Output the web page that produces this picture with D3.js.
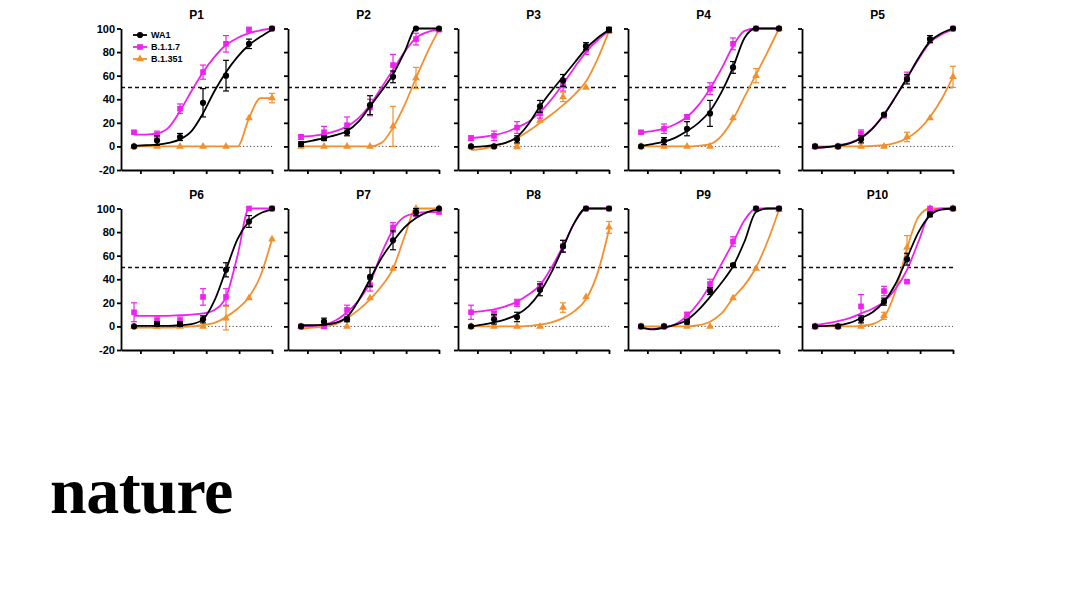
<!DOCTYPE html>
<html>
<head>
<meta charset="utf-8">
<script src="https://cdn.jsdelivr.net/npm/d3@7"></script>
<style>
  body { margin: 0; background: #fff; }
  svg { display: block; font-family: "Liberation Sans", Arial, sans-serif; }
</style>
</head>
<body>
<svg id="chart" width="1066" height="600"></svg>
<script>
// Panels and series
const panelNames = ['P1', 'P2', 'P3', 'P4', 'P5', 'P6', 'P7', 'P8', 'P9', 'P10'];
const seriesNames = ['WA1', 'B.1.1.7', 'B.1.351'];

// 5-fold dilution steps (x), and the finer grid used for the fitted curves
const dilution = [6.4, 32, 160, 800, 4000, 20000, 100000];
const fitDilution = [6.4, 14.3, 32, 71.6, 160, 358, 800, 1789, 4000, 8944, 20000, 44721, 100000];
const xTicks = [10, 100, 1000, 10000, 100000];
const yTicks = [-20, 0, 20, 40, 60, 80, 100];

// WA1 mean values and error (one row per panel)
const wa1 = [
  [0, 5, 8, 37, 60, 87, 100],
  [2, 7, 12, 35, 59, 100, 100],
  [0, 0, 6, 34, 56, 85, 99],
  [0, 4.5, 15, 28, 67, 100, 100],
  [0, 0, 6, 27, 57, 91, 100],
  [0, 2, 2, 6, 48, 89, 100],
  [0, 4, 6, 42, 73, 97, 100],
  [0, 6, 8, 31, 68, 100, 100],
  [0, 0, 4, 30, 52, 100, 100],
  [0, 0, 6, 21, 57, 95, 100]
];
const wa1Err = [
  [0, 4, 3, 12, 13, 4, 0],
  [2, 2, 3, 8, 5, 0, 0],
  [0, 0, 3, 5, 5, 3, 2],
  [0, 3, 6, 11, 5, 0, 0],
  [0, 0, 3, 1, 4, 3, 0],
  [0, 2, 2, 3, 6, 5, 0],
  [0, 3, 2, 8, 8, 3, 0],
  [0, 4, 4, 5, 5, 0, 0],
  [0, 0, 2, 3, 1, 0, 0],
  [0, 0, 3, 3, 5, 2, 0]
];

// B.1.1.7
const b117 = [
  [12, 10, 32, 63, 87, 99, 100],
  [8, 12, 18, 33, 69, 91, 99],
  [7, 9, 16, 28, 52, 82, 98],
  [12, 15, 25, 49, 87, 100, 100],
  [0, 0, 11, 26, 59, 90, 100],
  [12, 5, 5, 25, 25, 100, 100],
  [0, 0, 14, 35, 84, 95, 97],
  [12, 11, 20, 34, 68, 100, 100],
  [0, 0, 10, 36, 72, 100, 100],
  [0, 0, 17, 30, 38, 100, 100]
];
const b117Err = [
  [1, 3, 4, 6, 7, 2, 0],
  [2, 5, 7, 7, 9, 5, 0],
  [2, 4, 5, 4, 5, 4, 0],
  [1, 4, 2, 5, 5, 0, 0],
  [0, 0, 3, 1, 4, 2, 0],
  [8, 3, 3, 7, 7, 0, 0],
  [0, 1, 4, 5, 4, 1, 0],
  [6, 2, 3, 4, 5, 0, 0],
  [0, 0, 2, 4, 4, 0, 0],
  [0, 0, 10, 4, 1, 0, 0]
];

// B.1.351
const b1351 = [
  [0, 0, 0, 0, 0, 24, 41],
  [0, 0, 0, 0, 17, 58, 99],
  [0, 0, 0, 22, 42, 50, 98],
  [0, 0, 0, 0, 24, 60, 100],
  [0, 0, 0, 0, 8, 24, 59],
  [0, 0, 0, 0, 7, 24, 74],
  [0, 0, 0, 24, 49, 100, 100],
  [0, 0, 0, 0, 16, 25, 84],
  [0, 0, 0, 0, 24, 49, 99],
  [0, 0, 0, 9, 67, 100, 100]
];
const b1351Err = [
  [0, 0, 0, 0, 0, 0, 4],
  [0, 0, 0, 0, 17, 9, 0],
  [0, 0, 2, 0, 4, 0, 0],
  [0, 0, 0, 0, 0, 6, 0],
  [0, 0, 0, 0, 4, 0, 9],
  [0, 0, 0, 0, 10, 0, 0],
  [0, 0, 0, 0, 0, 0, 0],
  [0, 0, 0, 0, 4, 0, 5],
  [0, 0, 0, 0, 0, 0, 0],
  [0, 0, 0, 3, 10, 0, 0]
];

const wa1Fit = [
  [0.5, 1, 1.5, 3, 6, 13, 28, 47, 63, 76, 86, 93, 99],
  [3, 5, 7, 9.5, 13, 21, 34, 47, 61, 80, 100, 100, 100],
  [-0.5, 0, 1, 3, 8, 19, 34, 47, 59, 71, 83, 92, 99],
  [0.5, 2, 4, 7.5, 13, 20, 30, 46, 67, 92, 100, 100, 100],
  [-1, -0.5, 0.5, 2.5, 7, 15, 27, 42, 58, 75, 89, 96, 100],
  [0.5, 0.5, 0.5, 0.5, 1, 2, 6, 22, 48, 74, 89, 96, 99],
  [1, 1, 1.5, 3, 8, 22, 40, 58, 72, 84, 92, 97, 99],
  [0, 1.5, 3.5, 6, 10, 17, 29, 46, 67, 88, 100, 100, 100],
  [-1, -2.5, -1, 1.5, 5.5, 14, 25, 37, 51, 72, 97, 100, 100],
  [0, 0.5, 1, 3, 7, 12, 21, 36, 58, 80, 94, 99, 100]
];
const b117Fit = [
  [10, 10, 11, 16, 30, 47, 63, 76, 86, 92, 96, 98.5, 100],
  [8.5, 9, 10.5, 13, 17, 24, 35, 50, 65, 80, 92, 97, 99],
  [7, 8, 9.5, 12, 16, 21, 29, 40, 53, 67, 80, 90, 98],
  [12, 13, 15, 19, 25, 35, 49, 66, 85, 98, 100, 100, 100],
  [-1.5, -0.5, 1, 3, 7.5, 15.5, 27, 42, 58, 74, 88, 95, 99],
  [9, 9, 9, 9, 9.5, 10, 11, 14, 25, 60, 100, 100, 100],
  [0, 0.5, 1.5, 5, 12, 22, 37, 62, 82, 93, 96, 97, 97],
  [12, 13, 14.5, 17, 21, 27, 35, 50, 68, 88, 100, 100, 100],
  [-1, -2, -1, 2, 9, 20, 35, 53, 71, 90, 100, 100, 100],
  [1, 2.5, 4.5, 7, 11, 15, 21, 32, 48, 72, 96, 100, 100]
];
const b1351Fit = [
  [0, 0, 0, 0, 0, 0, 0, 0, 0, 0, 24, 41, 41],
  [0, 0, 0, 0, 0, 0, 0, 3, 16, 35, 58, 80, 99],
  [-3, -2, 0, 3, 7, 13, 20, 27, 35, 44, 55, 74, 98],
  [0, 0, 0, 0, 0, 0.5, 2, 9, 23, 42, 61, 80, 100],
  [0, 0, 0, 0, 0, 0.5, 1, 3, 7, 14, 25, 40, 59],
  [-1, -1, -1, -1, -0.5, 0, 1, 3, 8, 15, 25, 43, 74],
  [-2, -1, 0, 2, 7, 14, 23, 34, 49, 76, 100, 100, 100],
  [0, 0, 0, 0, 0, 0.5, 1.5, 3.5, 7, 13, 23, 45, 82],
  [0, 0, 0, 0, 0, 1, 4, 11, 24, 35, 50, 72, 99],
  [0, 0, 0, 0, 0.5, 2, 8, 30, 66, 93, 100, 100, 100]
];

const seriesColors = ['#000000', '#ee22ee', '#f3902c'];
const seriesSymbols = [d3.symbolCircle, d3.symbolSquare, d3.symbolTriangle];
const seriesSizes = [30, 32, 26];

const means = [wa1, b117, b1351];
const errs = [wa1Err, b117Err, b1351Err];
const fits = [wa1Fit, b117Fit, b1351Fit];

// layout
const colX = [121, 288, 458, 628, 802];
const rowY = [28.5, 208.5];
const plotW = 151;
const plotH = 141.5;

const svg = d3.select('#chart');

const x = d3.scaleLog().domain([2.57, 100000]).range([0, plotW]);
const y = d3.scaleLinear().domain([-20, 100]).range([plotH, 0]);

const line = d3.line()
  .x(d => x(d[0]))
  .y(d => y(d[1]))
  .curve(d3.curveMonotoneX);

panelNames.forEach((name, p) => {
  const col = p % 5;
  const row = Math.floor(p / 5);
  const g = svg.append('g')
    .attr('transform', `translate(${colX[col]},${rowY[row]})`);

  // reference lines
  g.append('line')
    .attr('x1', 0).attr('x2', plotW + (col < 4 ? 10 : 2))
    .attr('y1', y(50)).attr('y2', y(50))
    .attr('stroke', '#111').attr('stroke-width', 1.5)
    .attr('stroke-dasharray', '4,3');
  g.append('line')
    .attr('x1', x(dilution[0]) - 3).attr('x2', plotW)
    .attr('y1', y(0)).attr('y2', y(0))
    .attr('stroke', '#444').attr('stroke-width', 1)
    .attr('stroke-dasharray', '1.2,2.3');

  // axes (plain hyphen for negatives, like the original)
  const yAxis = d3.axisLeft(y).tickValues(yTicks)
    .tickSize(4).tickSizeOuter(0).tickPadding(2)
    .tickFormat(d => String(d));
  if (col !== 0) yAxis.tickFormat('');
  const ya = g.append('g').call(yAxis);
  const xa = g.append('g')
    .attr('transform', `translate(0,${plotH})`)
    .call(d3.axisBottom(x).tickValues(xTicks).tickSize(4).tickSizeOuter(0).tickFormat(''));
  [ya, xa].forEach(a => {
    a.selectAll('path, line').attr('stroke', '#000').attr('stroke-width', 1.8);
    a.selectAll('text')
      .attr('fill', '#000')
      .style('font-size', '11px')
      .style('font-weight', 'bold');
  });

  // title
  g.append('text')
    .attr('x', plotW / 2)
    .attr('y', -10)
    .attr('text-anchor', 'middle')
    .style('font-size', '12px')
    .style('font-weight', 'bold')
    .text(name);

  // series drawn orange, magenta, black so WA1 sits on top
  [2, 1, 0].forEach(s => {
    const color = seriesColors[s];
    const fitData = fitDilution.map((c, i) => [c, fits[s][p][i]]);
    g.append('path')
      .datum(fitData)
      .attr('d', line)
      .attr('fill', 'none')
      .attr('stroke', color)
      .attr('stroke-width', 1.8);

    const pts = dilution.map((c, i) => ({ c: c, v: means[s][p][i], e: errs[s][p][i] }));

    const bars = g.append('g').attr('stroke', color).attr('stroke-width', 1.2);
    pts.filter(d => d.e > 0).forEach(d => {
      const cx = x(d.c);
      bars.append('line')
        .attr('x1', cx).attr('x2', cx)
        .attr('y1', y(d.v - d.e)).attr('y2', y(d.v + d.e));
      [d.v - d.e, d.v + d.e].forEach(v => {
        bars.append('line')
          .attr('x1', cx - 3).attr('x2', cx + 3)
          .attr('y1', y(v)).attr('y2', y(v));
      });
    });

    g.append('g').selectAll('path')
      .data(pts)
      .enter()
      .append('path')
      .attr('transform', d => `translate(${x(d.c)},${y(d.v)})`)
      .attr('d', d3.symbol().type(seriesSymbols[s]).size(seriesSizes[s]))
      .attr('fill', color);
  });

  // legend in the first panel
  if (p === 0) {
    const lg = g.append('g').attr('transform', 'translate(12,6.5)');
    seriesNames.forEach((sn, s) => {
      const ly = s * 12;
      lg.append('line')
        .attr('x1', 0).attr('x2', 14)
        .attr('y1', ly).attr('y2', ly)
        .attr('stroke', seriesColors[s]).attr('stroke-width', 1.8);
      lg.append('path')
        .attr('transform', `translate(7,${ly})`)
        .attr('d', d3.symbol().type(seriesSymbols[s]).size(seriesSizes[s]))
        .attr('fill', seriesColors[s]);
      lg.append('text')
        .attr('x', 18)
        .attr('y', ly)
        .attr('dy', '0.35em')
        .style('font-size', '9px')
        .style('font-weight', 'bold')
        .text(sn);
    });
  }
});

// journal wordmark
svg.append('text')
  .attr('x', 50)
  .attr('y', 513)
  .style('font-family', '"Liberation Serif", "Times New Roman", serif')
  .style('font-size', '66px')
  .style('font-weight', 'bold')
  .style('letter-spacing', '-0.5px')
  .attr('fill', '#000')
  .text('nature');
</script>
</body>
</html>
